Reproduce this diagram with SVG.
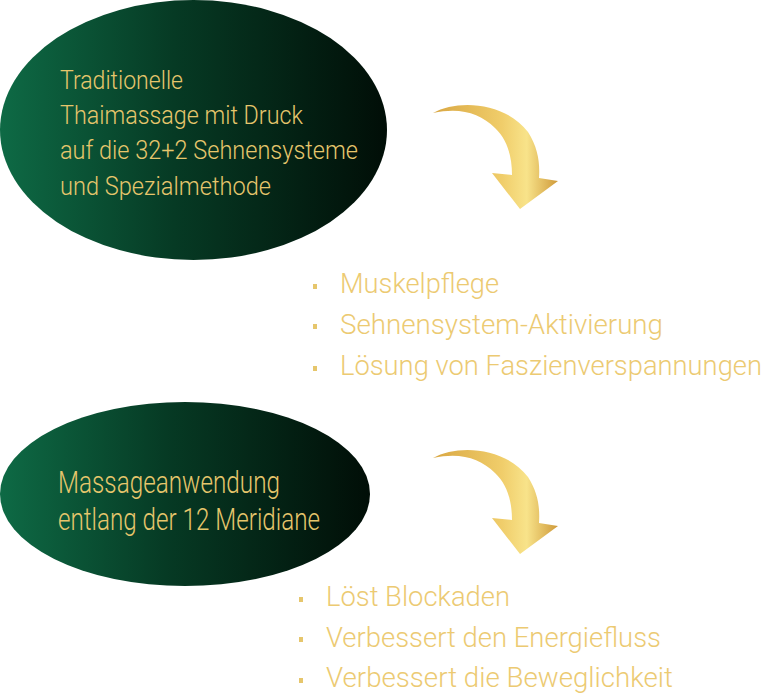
<svg xmlns="http://www.w3.org/2000/svg" width="768" height="695" viewBox="0 0 768 695">
<defs>
<linearGradient id="eg" x1="0" y1="0" x2="1" y2="0">
<stop offset="0" stop-color="#0e6a45"/>
<stop offset="0.45" stop-color="#063a24"/>
<stop offset="1" stop-color="#010e07"/>
</linearGradient>
<linearGradient id="ag" x1="0" y1="0" x2="1" y2="0">
<stop offset="0" stop-color="#d9a743"/>
<stop offset="0.55" stop-color="#f0cd6a"/>
<stop offset="0.75" stop-color="#f8e38a"/>
<stop offset="1" stop-color="#cf9a3a"/>
</linearGradient>
<path id="arr" d="M 433,113 C 458,99 505,102 528,132 C 538,148 540,162 539,178 L 558,181 L 520,209 L 492,173 L 512,175 C 512,158 508,140 495,128 C 480,113 460,107 433,113 Z"/>
</defs>
<style>
.t{font-family:Roboto,"Liberation Sans",sans-serif;font-weight:300;fill:#e6c66c}
.b{font-family:Roboto,"Liberation Sans",sans-serif;font-weight:300;fill:#ecca72;font-size:28px}
.sq{fill:#e6c66c}
</style>
<g id="node1">
<ellipse cx="193.5" cy="130" rx="193.5" ry="130" fill="url(#eg)"/>
<text class="t" font-size="26" x="60" y="89" textLength="123" lengthAdjust="spacingAndGlyphs">Traditionelle</text>
<text class="t" font-size="26" x="60" y="124" textLength="243" lengthAdjust="spacingAndGlyphs">Thaimassage mit Druck</text>
<text class="t" font-size="26" x="60" y="159" textLength="298" lengthAdjust="spacingAndGlyphs">auf die 32+2 Sehnensysteme</text>
<text class="t" font-size="26" x="60" y="195" textLength="211" lengthAdjust="spacingAndGlyphs">und Spezialmethode</text>
</g>
<g id="list1">
<rect class="sq" x="313" y="284" width="4" height="5"/>
<text class="b" x="340" y="293" textLength="159" lengthAdjust="spacingAndGlyphs">Muskelpflege</text>
<rect class="sq" x="313" y="324" width="4" height="5"/>
<text class="b" x="340" y="334" textLength="323" lengthAdjust="spacingAndGlyphs">Sehnensystem-Aktivierung</text>
<rect class="sq" x="313" y="366" width="4" height="5"/>
<text class="b" x="340" y="375" style="font-size:27px" textLength="422" lengthAdjust="spacingAndGlyphs">Lösung von Faszienverspannungen</text>
</g>
<g id="node2">
<ellipse cx="185" cy="494" rx="185" ry="92" fill="url(#eg)"/>
<text class="t" font-size="31" x="58" y="493" textLength="222" lengthAdjust="spacingAndGlyphs">Massageanwendung</text>
<text class="t" font-size="31" x="58" y="530" textLength="262" lengthAdjust="spacingAndGlyphs">entlang der 12 Meridiane</text>
</g>
<g id="list2">
<rect class="sq" x="299" y="597" width="4" height="5"/>
<text class="b" x="326" y="606" textLength="184" lengthAdjust="spacingAndGlyphs">Löst Blockaden</text>
<rect class="sq" x="299" y="637" width="4" height="5"/>
<text class="b" x="326" y="647" textLength="335" lengthAdjust="spacingAndGlyphs">Verbessert den Energiefluss</text>
<rect class="sq" x="299" y="678" width="4" height="5"/>
<text class="b" x="326" y="687" textLength="347" lengthAdjust="spacingAndGlyphs">Verbessert die Beweglichkeit</text>
</g>
<g id="connectors">
<use href="#arr" fill="url(#ag)"/>
<use href="#arr" fill="url(#ag)" transform="translate(0,345)"/>
</g>
</svg>
